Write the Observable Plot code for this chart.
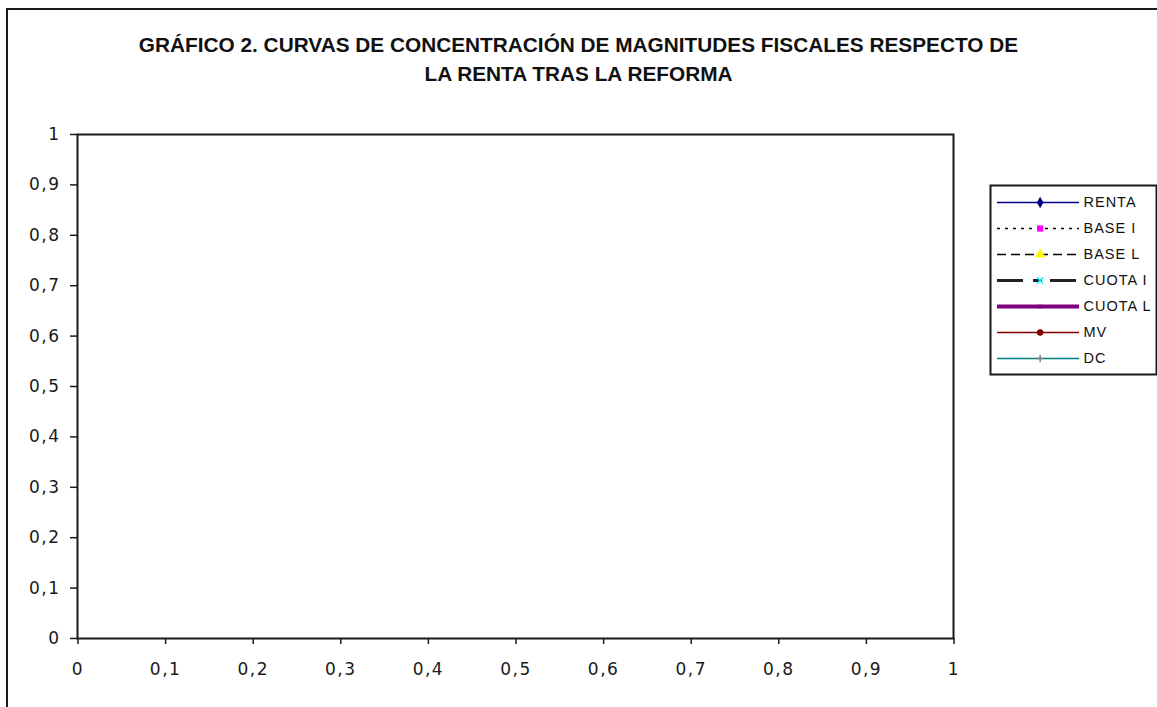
<!DOCTYPE html>
<html><head><meta charset="utf-8">
<script src="https://cdn.jsdelivr.net/npm/d3@7"></script>
<script src="https://cdn.jsdelivr.net/npm/@observablehq/plot@0.6"></script>
<style>
body{margin:0;background:#fff;}
#wrap{position:relative;width:1157px;height:707px;overflow:hidden;background:#fff;font-family:"Liberation Sans",Arial,sans-serif;}
#frame{position:absolute;left:6px;top:8px;width:1300px;height:900px;border-left:2px solid #1a1a1a;border-top:2px solid #1a1a1a;}
#title{position:absolute;left:0;width:1157px;top:30px;text-align:center;font-weight:bold;font-size:20.8px;line-height:29px;color:#111;}
#chart{position:absolute;left:0;top:0;}
#chart svg text{font-family:"DejaVu Sans",sans-serif;font-size:17px;letter-spacing:1.5px;}
#legend{position:absolute;left:990px;top:185px;}
#legend svg text{font-size:14.5px;letter-spacing:1px;}
</style></head>
<body><div id="wrap"><div id="frame"></div><div id="chart"></div><div id="title"></div><div id="legend"></div></div>
<script>
// ---- text ----
const titleLines = [
  "GRÁFICO 2. CURVAS DE CONCENTRACIÓN DE MAGNITUDES FISCALES RESPECTO DE",
  "LA RENTA TRAS LA REFORMA"
];
// ---- series ----
const seriesNames = ["RENTA", "BASE I", "BASE L", "CUOTA I", "CUOTA L", "MV", "DC"];
// ---- ticks ----
const xTicks = [0, 0.1, 0.2, 0.3, 0.4, 0.5, 0.6, 0.7, 0.8, 0.9, 1];
const yTicks = [0, 0.1, 0.2, 0.3, 0.4, 0.5, 0.6, 0.7, 0.8, 0.9, 1];
const tickLabels = ["0", "0,1", "0,2", "0,3", "0,4", "0,5", "0,6", "0,7", "0,8", "0,9", "1"];
// ---- curve values (the reference plot area shows no plotted curves) ----
const popShare = [];
const renta = [];
const baseI = [];
const baseL = [];
const cuotaI = [];
const cuotaL = [];
const mv = [];
const dc = [];
const seriesValues = [renta, baseI, baseL, cuotaI, cuotaL, mv, dc];

// ---- styles (kept apart from data) ----
const styles = [
  {stroke: "#000080", width: 1.5, dash: null, mColor: "#000080", symbol: "diamond", r: 3.5, mode: "fill"},
  {stroke: "#000000", width: 1.5, dash: "3,5", mColor: "#ff00ff", symbol: "square", r: 3.5, mode: "fill"},
  {stroke: "#000000", width: 1.5, dash: "9,5", mColor: "#ffff00", symbol: "triangle", r: 4, mode: "fill"},
  {stroke: "#222222", width: 3, dash: "26,10,9,8", mColor: "#00ffff", symbol: "times", r: 3, mode: "stroke"},
  {stroke: "#800080", width: 4, dash: null, mColor: "#800080", symbol: "square", r: 2, mode: "fill"},
  {stroke: "#800000", width: 1.5, dash: null, mColor: "#800000", symbol: "circle", r: 3.2, mode: "fill"},
  {stroke: "#008080", width: 1.5, dash: null, mColor: "#808080", symbol: "plus", r: 2.5, mode: "stroke"}
];

const fmt = d => tickLabels[xTicks.findIndex(t => Math.abs(t - d) < 1e-9)];

document.getElementById("title").innerHTML = titleLines.map(t => `<div>${t}</div>`).join("");

const rows = seriesNames.flatMap((name, i) =>
  seriesValues[i].map((v, j) => ({series: name, x: popShare[j], y: v})));

const lineMarks = seriesNames.flatMap((name, i) => {
  const s = styles[i];
  const data = rows.filter(r => r.series === name);
  return [
    Plot.line(data, {x: "x", y: "y", stroke: s.stroke, strokeWidth: s.width, strokeDasharray: s.dash}),
    Plot.dot(data, {x: "x", y: "y", symbol: s.symbol, r: s.r,
      fill: s.mode === "fill" ? s.mColor : "none", stroke: s.mode === "stroke" ? s.mColor : "none"})
  ];
});

const chart = Plot.plot({
  width: 1157, height: 707,
  marginLeft: 77, marginTop: 134, marginRight: 204, marginBottom: 69,
  style: {fontFamily: "'DejaVu Sans', sans-serif", fontSize: "17px", color: "#1a1a1a", background: "transparent"},
  x: {domain: [0, 1]},
  y: {domain: [0, 1]},
  marks: [
    Plot.frame({stroke: "#1a1a1a", strokeWidth: 2}),
    Plot.axisX({ticks: xTicks, tickFormat: fmt, tickSize: 6, tickPadding: 18, strokeWidth: 1.5, label: null, dx: 0.5}),
    Plot.axisY({ticks: yTicks, tickFormat: fmt, tickSize: 7, tickPadding: 10, strokeWidth: 1.5, label: null}),
    ...lineMarks
  ]
});
document.getElementById("chart").appendChild(chart);

// ---- legend ----
const legendMarks = seriesNames.flatMap((name, i) => {
  const s = styles[i];
  return [
    Plot.ruleY([name], {y: d => d, x1: 0, x2: 1, stroke: s.stroke, strokeWidth: s.width, strokeDasharray: s.dash}),
    Plot.dot([name], {y: d => d, x: 0.52, symbol: s.symbol, r: s.r,
      fill: s.mode === "fill" ? s.mColor : "none", stroke: s.mode === "stroke" ? s.mColor : "none", strokeWidth: 1.5}),
    Plot.text([name], {y: d => d, x: 1, text: d => d, textAnchor: "start", dx: 4, fill: "#111"})
  ];
});
const legend = Plot.plot({
  width: 166, height: 189, margin: 0,
  style: {fontFamily: "'Liberation Sans', Arial, sans-serif", background: "transparent", overflow: "visible"},
  x: {domain: [0, 1], range: [7, 89], axis: null},
  y: {domain: seriesNames, type: "point", padding: 0, range: [15, 175], axis: null},
  marks: [
    Plot.frame({stroke: "#1a1a1a", strokeWidth: 2}),
    ...legendMarks
  ]
});
document.getElementById("legend").appendChild(legend);
</script>
</body></html>
